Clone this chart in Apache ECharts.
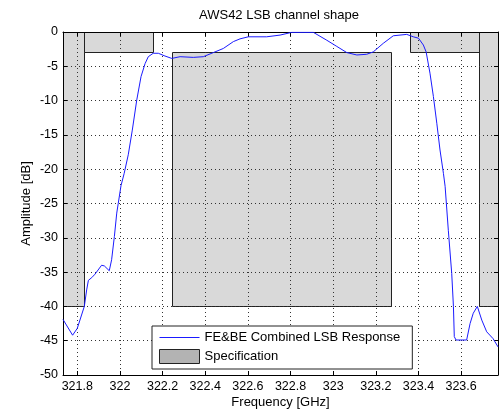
<!DOCTYPE html>
<html>
<head>
<meta charset="utf-8">
<script src="https://cdn.jsdelivr.net/npm/echarts@6/dist/echarts.min.js"></script>
<style>
html, body { margin: 0; padding: 0; background: #fff; }
#chart { width: 504px; height: 417px; }
</style>
</head>
<body>
<div id="chart"></div>
<script>
// measured response, frequency in GHz and amplitude in dB
var freq = [321.733, 321.778, 321.800, 321.833, 321.844, 321.852, 321.868, 321.883, 321.914, 321.927,
  321.950, 321.961, 321.974, 321.985, 321.992, 322.005, 322.020, 322.039, 322.058, 322.079,
  322.099, 322.118, 322.133, 322.156, 322.180, 322.211, 322.243, 322.282, 322.344, 322.391,
  322.438, 322.485, 322.532, 322.563, 322.602, 322.688, 322.751, 322.806, 322.907, 322.970,
  323.017, 323.064, 323.111, 323.157, 323.188, 323.235, 323.282, 323.345, 323.376, 323.400,
  323.423, 323.436, 323.454, 323.470, 323.486, 323.501, 323.517, 323.525, 323.540, 323.556,
  323.564, 323.568, 323.576, 323.626, 323.642, 323.657, 323.676, 323.697, 323.720, 323.750,
  323.773];
var amp = [-41.9, -44.2, -43.2, -40.0, -37.6, -36.2, -35.8, -35.3, -34.0, -34.1,
  -34.8, -33.2, -29.8, -26.4, -25.0, -22.4, -20.6, -17.9, -14.3, -9.9,
  -6.5, -4.6, -3.6, -3.1, -3.1, -3.5, -3.85, -3.6, -3.7, -3.6,
  -3.0, -2.4, -1.4, -1.0, -0.7, -0.7, -0.45, -0.05, -0.05, -1.2,
  -2.1, -3.0, -3.35, -3.25, -2.9, -1.65, -0.55, -0.35, -0.7, -0.9,
  -1.9, -2.9, -6.0, -9.4, -13.3, -17.2, -20.6, -22.5, -28.9, -35.2,
  -40.0, -44.4, -44.9, -44.9, -42.5, -41.0, -40.0, -42.0, -43.7, -44.7,
  -45.9];

// specification mask boxes
var specX0 = [321.733, 321.833, 322.243, 323.360, 323.682];
var specX1 = [321.833, 322.154, 323.271, 323.682, 323.773];
var specTop = [0, 0, -2.9, 0, 0];
var specBottom = [-40, -2.9, -40, -2.9, -40];

var xTicks = [321.8, 322, 322.2, 322.4, 322.6, 322.8, 323, 323.2, 323.4, 323.6];
var xMin = 321.733, xMax = 323.773;
var yMin = -50, yMax = 0, yStep = 5;

var FONT = 'Liberation Sans, Arial, sans-serif';

function draw_chart() {
  var dom = document.getElementById('chart');
  var myChart = echarts.init(dom, null, { renderer: 'canvas' });

  var lineData = freq.map(function (f, i) { return [f, amp[i]]; });
  var specData = specX0.map(function (x, i) { return [x, specX1[i], specTop[i], specBottom[i]]; });
  var fmt = function (v) { return String(Math.round(v * 10) / 10); };

  var tick = { show: true, inside: true, length: 4, lineStyle: { color: '#000' }, customValues: xTicks };
  var ytick = { show: true, inside: true, length: 4, lineStyle: { color: '#000' } };

  var option = {
    animation: false,
    backgroundColor: '#fff',
    title: {
      text: 'AWS42 LSB channel shape',
      left: 199, top: 9, padding: 0,
      textStyle: { fontFamily: FONT, fontSize: 13, fontWeight: 'normal', color: '#000' }
    },
    grid: { left: 63, top: 32, right: 6, bottom: 42, containLabel: false },
    legend: {
      orient: 'vertical',
      left: 152, top: 326,
      padding: [5, 12, 5, 7],
      itemGap: 5, itemWidth: 40, itemHeight: 14,
      symbolKeepAspect: true,
      backgroundColor: '#fff', borderColor: '#222', borderWidth: 1,
      z: 10,
      textStyle: { fontFamily: FONT, fontSize: 13, color: '#000' },
      data: [
        { name: 'FE&BE Combined LSB Response', icon: 'path://M0,0 H40 V1 H0 Z',
          itemStyle: { color: '#1a1aff' } },
        { name: 'Specification', icon: 'rect',
          itemStyle: { color: '#b3b3b3', borderColor: '#222', borderWidth: 1 } }
      ]
    },
    xAxis: [{
      type: 'value', min: xMin, max: xMax, z: 3,
      name: 'Frequency [GHz]', nameLocation: 'middle', nameGap: 21, nameMoveOverlap: false,
      nameTextStyle: { fontFamily: FONT, fontSize: 13, color: '#000' },
      axisLine: { onZero: false, lineStyle: { color: '#000' } },
      axisTick: tick,
      axisLabel: { margin: 5, fontFamily: FONT, fontSize: 12.5, color: '#000', customValues: xTicks, formatter: fmt },
      splitLine: { show: true, lineStyle: { color: '#333', type: [1, 3] } }
    }, {
      type: 'value', min: xMin, max: xMax, position: 'top', z: 3,
      axisLine: { onZero: false, lineStyle: { color: '#000' } },
      axisTick: tick,
      axisLabel: { show: false, customValues: xTicks },
      splitLine: { show: false }
    }],
    yAxis: [{
      type: 'value', min: yMin, max: yMax, interval: yStep, z: 3,
      name: 'Amplitude [dB]', nameLocation: 'middle', nameGap: 30, nameMoveOverlap: false,
      nameTextStyle: { fontFamily: FONT, fontSize: 13, color: '#000' },
      axisLine: { show: true, onZero: false, lineStyle: { color: '#000' } },
      axisTick: ytick,
      axisLabel: { margin: 5, fontFamily: FONT, fontSize: 12.5, color: '#000' },
      splitLine: { show: true, lineStyle: { color: '#333', type: [1, 3] } }
    }, {
      type: 'value', min: yMin, max: yMax, interval: yStep, position: 'right', z: 3,
      axisLine: { show: true, onZero: false, lineStyle: { color: '#000' } },
      axisTick: ytick,
      axisLabel: { show: false },
      splitLine: { show: false }
    }],
    series: [{
      name: 'Specification',
      type: 'custom',
      z: 1,
      itemStyle: { color: '#b3b3b3' },
      encode: { x: [0, 1], y: [2, 3] },
      renderItem: function (params, api) {
        var p0 = api.coord([api.value(0), api.value(2)]);
        var p1 = api.coord([api.value(1), api.value(3)]);
        var x0 = Math.round(p0[0]) + 0.5, y0 = Math.round(p0[1]) + 0.5;
        var x1 = Math.round(p1[0]) + 0.5, y1 = Math.round(p1[1]) + 0.5;
        return {
          type: 'rect',
          shape: { x: x0, y: y0, width: x1 - x0, height: y1 - y0 },
          style: { fill: '#d9d9d9', stroke: '#222', lineWidth: 1 }
        };
      },
      data: specData
    }, {
      name: 'FE&BE Combined LSB Response',
      type: 'line',
      z: 4,
      symbol: 'none',
      showSymbol: false,
      color: '#1a1aff',
      lineStyle: { color: '#1a1aff', width: 1 },
      data: lineData
    }]
  };

  myChart.setOption(option);
  window.addEventListener('resize', myChart.resize);
}
draw_chart();
</script>
</body>
</html>
